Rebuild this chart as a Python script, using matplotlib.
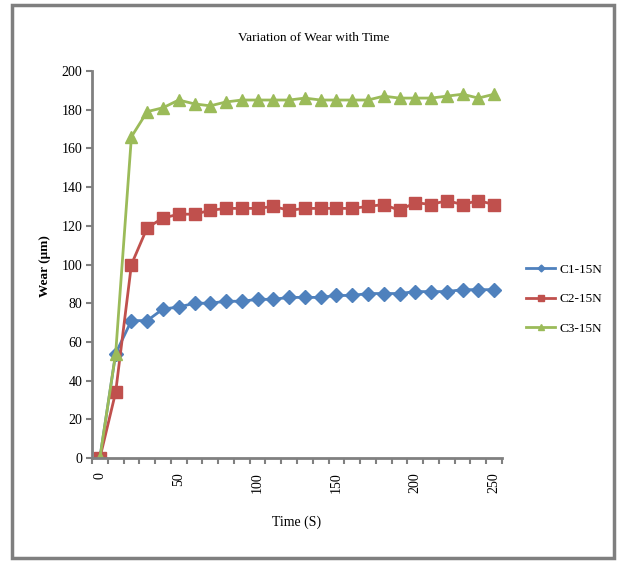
import matplotlib
matplotlib.use("Agg")
import matplotlib.pyplot as plt
from matplotlib.patches import Rectangle

# data
time_s = [0, 10, 20, 30, 40, 50, 60, 70, 80, 90, 100, 110, 120,
          130, 140, 150, 160, 170, 180, 190, 200, 210, 220, 230, 240, 250]
c1_15n = [0, 54, 71, 71, 77, 78, 80, 80, 81, 81, 82, 82, 83,
          83, 83, 84, 84, 85, 85, 85, 86, 86, 86, 87, 87, 87]
c2_15n = [0, 34, 100, 119, 124, 126, 126, 128, 129, 129, 129, 130, 128,
          129, 129, 129, 129, 130, 131, 128, 132, 131, 133, 131, 133, 131]
c3_15n = [0, 54, 166, 179, 181, 185, 183, 182, 184, 185, 185, 185, 185,
          186, 185, 185, 185, 185, 187, 186, 186, 186, 187, 188, 186, 188]
series_names = ["C1-15N", "C2-15N", "C3-15N"]
x_labels = [0, 50, 100, 150, 200, 250]

plt.rcParams['font.family'] = ['Liberation Serif', 'DejaVu Serif']

fig = plt.figure(figsize=(6.19, 5.61), dpi=100)
ax = fig.add_axes([92 / 619, 1 - 458 / 561, (502 - 92) / 619, (458 - 71) / 561])

# outer chart frame
fig.patches.append(Rectangle((12 / 619, 3 / 561), 602 / 619, 553 / 561,
                             transform=fig.transFigure, fill=False,
                             edgecolor='#7f7f7f', linewidth=2.5))

ax.plot(time_s, c1_15n, color='#4F81BD', marker='D', markersize=7, linewidth=2, label=series_names[0])
ax.plot(time_s, c2_15n, color='#C0504D', marker='s', markersize=8, linewidth=2, label=series_names[1])
ax.plot(time_s, c3_15n, color='#9BBB59', marker='^', markersize=8.5, linewidth=2, label=series_names[2])

ax.set_xlim(-5, 255)
ax.set_ylim(0, 200)
ax.set_yticks(range(0, 201, 20))
ax.set_xticks(x_labels)
ax.set_xticklabels([str(v) for v in x_labels], rotation=90)
ax.set_xticks([t - 5 for t in time_s] + [255], minor=True)

for side in ['top', 'right']:
    ax.spines[side].set_visible(False)
for side in ['left', 'bottom']:
    ax.spines[side].set_color('#808080')
    ax.spines[side].set_linewidth(2)

ax.tick_params(axis='y', direction='out', length=4, width=1.5, color='#808080', labelsize=10, pad=3)
ax.tick_params(axis='x', which='major', length=0, labelsize=10, pad=10)
ax.tick_params(axis='x', which='minor', direction='out', length=4, width=1.5, color='#808080')

fig.text(314 / 619, 1 - 38 / 561, "Variation of Wear with Time", ha='center', va='center', fontsize=9.5)
fig.text(45 / 619, 1 - 266 / 561, "Wear (\u03bcm)", ha='center', va='center', rotation=90, fontsize=9.5, fontweight='bold')
fig.text(297 / 619, 1 - 522 / 561, "Time (S)", ha='center', va='center', fontsize=10)

ax.legend(loc='center left', bbox_to_anchor=(1.03, 0.41), frameon=False, fontsize=9.5,
          handlelength=2.2, labelspacing=1.3, markerscale=0.5, handletextpad=0.3)

fig.savefig('out.png', dpi=100)
